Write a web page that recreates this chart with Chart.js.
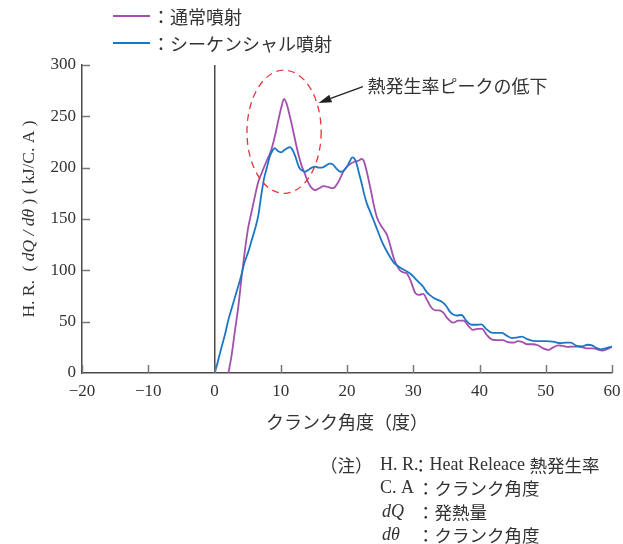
<!DOCTYPE html>
<html>
<head>
<meta charset="utf-8">
<script src="https://cdn.jsdelivr.net/npm/chart.js@4/dist/chart.umd.min.js"></script>
<style>
  html, body { margin: 0; padding: 0; background: #fff; }
  canvas { display: block; }
</style>
</head>
<body>
<canvas id="hr" width="623" height="544"></canvas>
<script>
// ---- data: heat release rate (kJ/C.A) vs crank angle (deg) ----
const seriesNames = ['通常噴射', 'シーケンシャル噴射'];

const normalAngle = [2.1, 2.6, 3.1, 3.6, 4.1, 4.6, 5.1, 5.6, 6.1, 6.6, 7.2, 7.9, 8.5, 8.9, 9.3, 9.7, 10.1, 10.5, 10.9, 11.3,
  11.7, 12.2, 12.7, 13.2, 13.7, 14.2, 14.7, 15.2, 15.8, 16.5, 17.2, 17.9, 18.5, 19.0, 19.5, 20.0, 20.6, 21.2, 21.8, 22.2,
  22.5, 22.8, 23.2, 23.6, 24.0, 24.5, 25.0, 25.6, 26.0, 26.5, 27.0, 27.5, 28.0, 28.5, 29.0, 29.6, 30.3, 30.9, 31.5, 32.1,
  32.7, 33.3, 33.9, 34.5, 35.2, 36.0, 36.8, 37.6, 38.3, 39.0, 39.7, 40.4, 41.1, 41.9, 42.7, 43.5, 44.3, 45.1, 45.8, 46.5,
  47.2, 48.0, 48.8, 49.6, 50.4, 51.1, 51.9, 52.6, 53.3, 54.0, 54.8, 55.6, 56.3, 57.1, 57.8, 58.5, 59.2, 60];
const normalRate = [0, 18, 42, 65, 94, 120, 142, 157, 172, 186, 196, 207, 216, 225, 236, 248, 259, 267, 262, 252,
  241, 226, 212, 201, 193, 185, 180, 178, 180, 182, 181, 180, 184, 190, 197, 201, 204, 206, 207, 208.5,
  207, 201, 190, 178, 165, 152, 145, 139, 135, 125, 113, 105, 100, 98, 97, 90, 78, 76, 77, 71,
  64, 61, 61, 59, 53, 49, 51, 51, 46, 42, 43, 43, 37, 32.5, 32, 32, 30, 29.5, 31, 30,
  28, 28, 27, 24, 22.5, 25, 27, 26.5, 25.5, 25.6, 25.6, 25, 24, 24, 23, 21.8, 23, 25.6];

const seqAngle = [0, 0.3, 0.7, 1.1, 1.6, 2.1, 2.6, 3.1, 3.6, 4.0, 4.5, 5.1, 5.6, 6.1, 6.6, 7.1, 7.5, 7.9, 8.3, 8.7,
  9.1, 9.6, 10.1, 10.5, 11.0, 11.4, 11.8, 12.2, 12.6, 12.9, 13.3, 13.7, 14.2, 14.7, 15.2, 15.7, 16.2, 16.8, 17.4, 17.9,
  18.4, 19.0, 19.5, 20.0, 20.4, 20.8, 21.1, 21.4, 21.8, 22.2, 22.6, 23.0, 23.5, 24.0, 24.6, 25.2, 25.8, 26.5, 27.0, 27.5,
  28.2, 29.0, 29.7, 30.3, 30.9, 31.5, 32.0, 32.5, 33.1, 33.8, 34.4, 35.0, 35.5, 36.0, 36.6, 37.3, 38.0, 38.8, 39.5, 40.3,
  41.0, 41.8, 42.6, 43.4, 44.2, 44.9, 45.6, 46.4, 47.2, 48.1, 49.0, 50.1, 51.1, 52.2, 53.0, 53.8, 54.7, 55.5, 56.3, 57.0,
  57.6, 58.3, 59.0, 59.5, 60];
const seqRate = [0, 6, 16, 26, 38, 52, 63, 74, 85, 94, 107, 118, 129, 140, 153, 175, 190, 200, 210, 216,
  219, 216, 215, 217, 219, 220, 217, 211, 203, 199, 197, 196, 198, 200, 201, 200, 200, 202, 204, 203,
  199, 196, 197, 201, 206, 210, 209, 205, 195, 185, 174, 165, 157, 149, 139, 129, 121, 113, 108, 105,
  102, 99, 96, 92, 88, 84, 79, 76, 73, 71, 69, 65, 60, 57, 56, 56.5, 51, 47, 47, 47.4,
  43, 39.3, 39, 39, 36, 34, 34.5, 35.4, 33, 31.2, 31, 31, 30.5, 29, 29.5, 29.5, 26.3, 26, 27.5, 27,
  24.5, 23, 24, 25, 25.6];

const xTickValues = [-20, -10, 0, 10, 20, 30, 40, 50, 60];
const yTickValues = [0, 50, 100, 150, 200, 250, 300];

const xTitle = 'クランク角度（度）';
const yTitleParts = [['H. R.  ( ', false], ['dQ / dθ', true], [' ) ( kJ/C. A )', false]];
const peakLabel = '熱発生率ピークの低下';
const noteLines = [
  [['（注）', 'cjk', 320], ['H. R.', 'serif', 380], ['：', 'cjk', 412], ['Heat Releace ', 'serif', null], ['熱発生率', 'cjk', null]],
  [['C. A', 'serif', 380], ['：', 'cjk', 417], ['クランク角度', 'cjk', null]],
  [['dQ', 'italic', 382], ['：', 'cjk', 417], ['発熱量', 'cjk', null]],
  [['dθ', 'italic', 382], ['：', 'cjk', 417], ['クランク角度', 'cjk', null]]
];

// annotation geometry in data units (crank angle, kJ/C.A)
const peakEllipse = { x: 10.5, y: 235, rx: 5.6, ry: 60 };
const arrowTip = { x: 15.7, y: 263 };
const arrowTail = { x: 22.4, y: 279 };
const labelAnchor = { x: 23.1, y: 279 };

// ---- styling ----
const PURPLE = '#a24fae';
const BLUE = '#1b77c3';
const AXIS = '#4a4a4a';
const TEXT = '#333333';
const SERIF = '"Liberation Serif", "Times New Roman", serif';
const CJK = '"Noto Sans CJK JP", sans-serif';

const toPoints = (xs, ys) => xs.slice(0, Math.min(xs.length, ys.length)).map((x, i) => ({ x, y: ys[i] }));

// inward tick marks on both axes
const inwardTicks = {
  id: 'inwardTicks',
  afterDatasetsDraw(chart) {
    const { ctx, chartArea: a, scales: { x, y } } = chart;
    ctx.save();
    ctx.strokeStyle = '#777';
    ctx.lineWidth = 1.5;
    ctx.beginPath();
    xTickValues.forEach(v => {
      const px = Math.round(x.getPixelForValue(v)) + 0.5;
      ctx.moveTo(px, a.bottom);
      ctx.lineTo(px, a.bottom - 8);
    });
    yTickValues.forEach(v => {
      if (v === 0) return;
      const py = Math.round(y.getPixelForValue(v)) + 0.5;
      ctx.moveTo(a.left, py);
      ctx.lineTo(a.left + 8, py);
    });
    ctx.stroke();
    ctx.restore();
  }
};

// rotated y-axis title with italic dQ/dθ
const yAxisTitle = {
  id: 'yAxisTitle',
  afterDraw(chart) {
    const { ctx, chartArea: a } = chart;
    const fontFor = it => (it ? 'italic ' : '') + '17.5px ' + SERIF;
    ctx.save();
    let total = 0;
    yTitleParts.forEach(([t, it]) => { ctx.font = fontFor(it); total += ctx.measureText(t).width; });
    ctx.translate(29, (a.top + a.bottom) / 2);
    ctx.rotate(-Math.PI / 2);
    ctx.fillStyle = TEXT;
    ctx.textBaseline = 'middle';
    ctx.textAlign = 'left';
    let pos = -total / 2;
    yTitleParts.forEach(([t, it]) => {
      ctx.font = fontFor(it);
      ctx.fillText(t, pos, 0);
      pos += ctx.measureText(t).width;
    });
    ctx.restore();
  }
};

// legend in the top-left corner
const cornerLegend = {
  id: 'cornerLegend',
  afterDraw(chart) {
    const { ctx } = chart;
    ctx.save();
    chart.data.datasets.forEach((ds, i) => {
      const yy = 16 + i * 27;
      ctx.strokeStyle = ds.borderColor;
      ctx.lineWidth = 2;
      ctx.beginPath();
      ctx.moveTo(113, yy);
      ctx.lineTo(150, yy);
      ctx.stroke();
      ctx.fillStyle = TEXT;
      ctx.font = '18px ' + CJK;
      ctx.textBaseline = 'middle';
      ctx.textAlign = 'left';
      ctx.fillText('：' + ds.label, 152, yy + 1);
    });
    ctx.restore();
  }
};

// dashed ellipse around the peak, arrow and label
const peakMarker = {
  id: 'peakMarker',
  afterDatasetsDraw(chart) {
    const { ctx, scales: { x, y } } = chart;
    const cx = x.getPixelForValue(peakEllipse.x);
    const cy = y.getPixelForValue(peakEllipse.y);
    const rx = x.getPixelForValue(peakEllipse.x + peakEllipse.rx) - cx;
    const ry = cy - y.getPixelForValue(peakEllipse.y + peakEllipse.ry);
    ctx.save();
    ctx.strokeStyle = '#e5363c';
    ctx.lineWidth = 1.3;
    ctx.setLineDash([7, 5]);
    ctx.beginPath();
    ctx.ellipse(cx, cy, rx, ry, 0, 0, Math.PI * 2);
    ctx.stroke();
    ctx.setLineDash([]);

    const tx = x.getPixelForValue(arrowTip.x), ty = y.getPixelForValue(arrowTip.y);
    const sx = x.getPixelForValue(arrowTail.x), sy = y.getPixelForValue(arrowTail.y);
    const ang = Math.atan2(ty - sy, tx - sx);
    const headLen = 13, headHalf = 4;
    const bx = tx - headLen * Math.cos(ang), by = ty - headLen * Math.sin(ang);
    ctx.strokeStyle = '#222';
    ctx.fillStyle = '#222';
    ctx.lineWidth = 1.3;
    ctx.beginPath();
    ctx.moveTo(sx, sy);
    ctx.lineTo(bx, by);
    ctx.stroke();
    ctx.beginPath();
    ctx.moveTo(tx, ty);
    ctx.lineTo(bx + headHalf * Math.sin(ang), by - headHalf * Math.cos(ang));
    ctx.lineTo(bx - headHalf * Math.sin(ang), by + headHalf * Math.cos(ang));
    ctx.closePath();
    ctx.fill();

    ctx.fillStyle = TEXT;
    ctx.font = '18px ' + CJK;
    ctx.textBaseline = 'middle';
    ctx.textAlign = 'left';
    ctx.fillText(peakLabel, x.getPixelForValue(labelAnchor.x), y.getPixelForValue(labelAnchor.y));
    ctx.restore();
  }
};

// abbreviation notes under the chart
const notesBlock = {
  id: 'notesBlock',
  afterDraw(chart) {
    const { ctx } = chart;
    const fonts = { cjk: '17.5px ' + CJK, serif: '18px ' + SERIF, italic: 'italic 18px ' + SERIF };
    ctx.save();
    ctx.fillStyle = TEXT;
    ctx.textBaseline = 'middle';
    ctx.textAlign = 'left';
    noteLines.forEach((segs, row) => {
      const yy = 465 + row * 23.5;
      let pos = 0;
      segs.forEach(([t, f, px]) => {
        ctx.font = fonts[f];
        if (px !== null) pos = px;
        ctx.fillText(t, pos, yy);
        pos += ctx.measureText(t).width;
      });
    });
    ctx.restore();
  }
};

new Chart(document.getElementById('hr'), {
  type: 'line',
  data: {
    datasets: [
      { label: seriesNames[0], data: toPoints(normalAngle, normalRate), borderColor: PURPLE, order: 2 },
      { label: seriesNames[1], data: toPoints(seqAngle, seqRate), borderColor: BLUE, order: 1 }
    ]
  },
  options: {
    responsive: false,
    animation: false,
    devicePixelRatio: 1,
    layout: { padding: { top: 65, right: 11, left: 0, bottom: 0 } },
    elements: {
      line: { borderWidth: 1.8, cubicInterpolationMode: 'monotone', fill: false },
      point: { radius: 0, hoverRadius: 0 }
    },
    plugins: { legend: { display: false }, tooltip: { enabled: false } },
    scales: {
      x: {
        type: 'linear',
        min: -20, max: 60,
        afterFit: s => { s.height = 171; s.paddingLeft = 0; s.paddingRight = 0; },
        afterBuildTicks: s => { s.ticks = xTickValues.map(v => ({ value: v })); },
        ticks: {
          padding: 8,
          color: TEXT,
          font: { family: SERIF, size: 17 },
          maxRotation: 0,
          callback: v => (v < 0 ? '\u2212' + Math.abs(v) : String(v))
        },
        grid: {
          drawTicks: false,
          lineWidth: 1.5,
          color: c => (c.tick && c.tick.value === 0 ? AXIS : 'rgba(0,0,0,0)')
        },
        border: { display: true, color: AXIS, width: 1.5 },
        title: {
          display: true,
          text: xTitle,
          color: TEXT,
          font: { family: CJK, size: 18 },
          padding: { top: 0, bottom: 111 }
        }
      },
      y: {
        min: 0, max: 300,
        afterFit: s => { s.width = 82; s.paddingTop = 0; s.paddingBottom = 0; },
        afterBuildTicks: s => { s.ticks = yTickValues.map(v => ({ value: v })); },
        ticks: { padding: 6, color: TEXT, font: { family: SERIF, size: 17 } },
        grid: { display: false, drawTicks: false },
        border: { display: true, color: AXIS, width: 1.5 }
      }
    }
  },
  plugins: [inwardTicks, peakMarker, yAxisTitle, cornerLegend, notesBlock]
});
</script>
</body>
</html>
